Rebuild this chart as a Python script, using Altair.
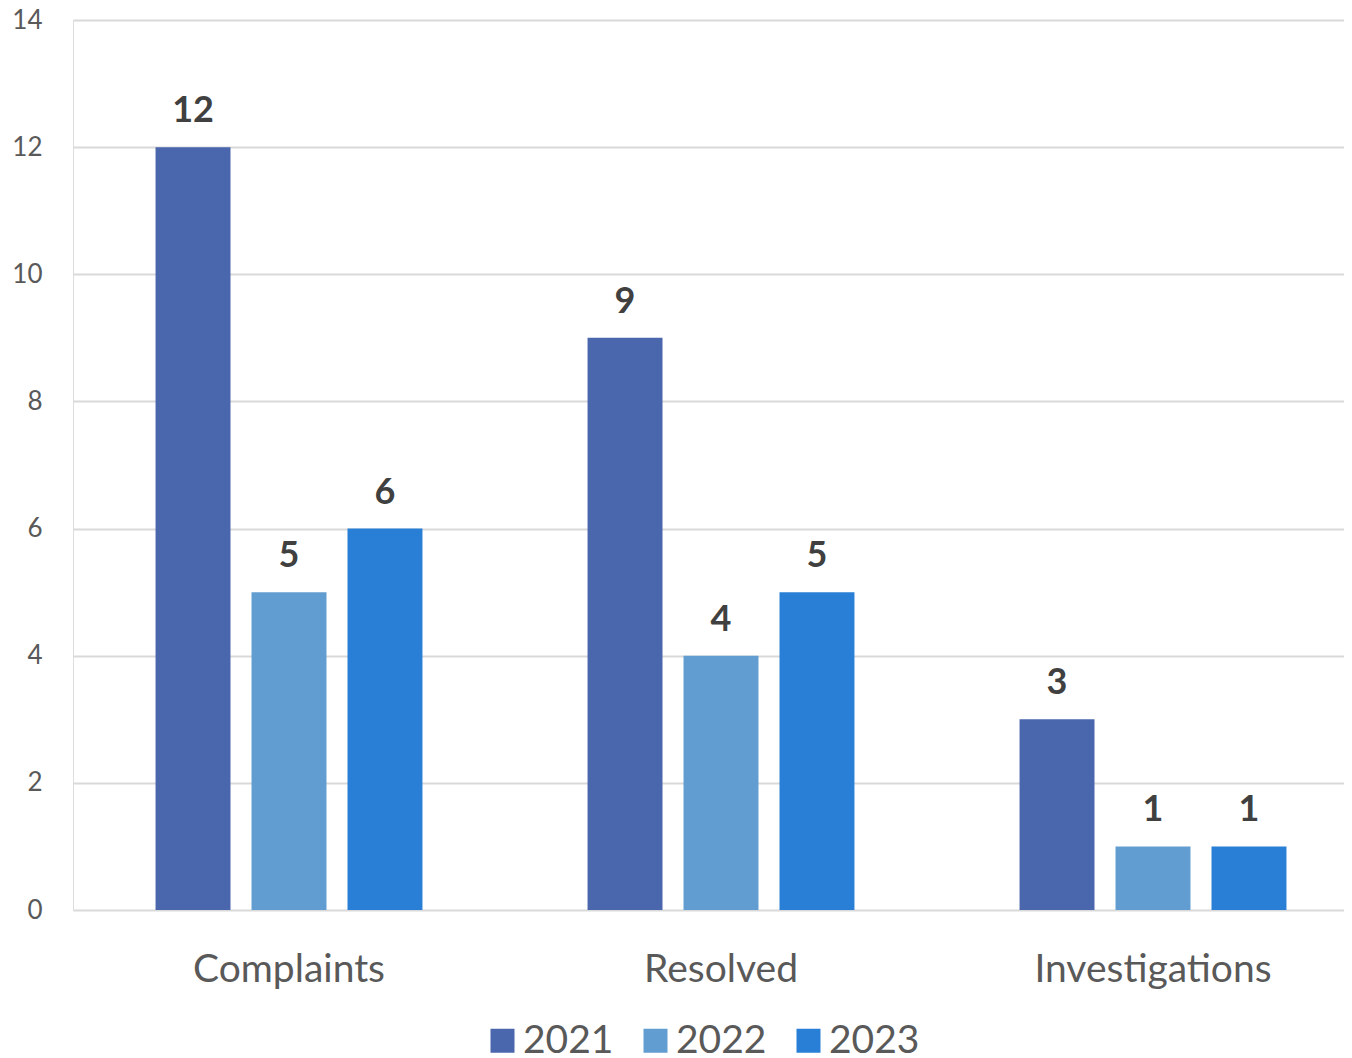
import altair as alt
import pandas as pd

categories = ["Complaints", "Resolved", "Investigations"]
years = ["2021", "2022", "2023"]
values_2021 = [12, 9, 3]
values_2022 = [5, 4, 1]
values_2023 = [6, 5, 1]
colors = ["#4a66ac", "#629dd1", "#297fd5"]

rows = []
for series_year, vals in zip(years, [values_2021, values_2022, values_2023]):
    for c, v in zip(categories, vals):
        rows.append({"category": c, "year": series_year, "value": v})
df = pd.DataFrame(rows)

FONT = "Lato"

x = alt.X("category:N", sort=categories, title=None,
          scale=alt.Scale(paddingInner=0, paddingOuter=0, range=[0, 1296]),
          axis=alt.Axis(labelAngle=0, labelFontSize=39, labelColor="#595959",
                        labelFont=FONT, ticks=False, domain=False, grid=False,
                        labelPadding=40, labelLimit=0))
xo = alt.XOffset("year:N", sort=years,
                 scale=alt.Scale(paddingInner=0.219, paddingOuter=0.86))
y = alt.Y("value:Q", title=None,
          scale=alt.Scale(domain=[0, 14], nice=False),
          axis=alt.Axis(values=[0, 2, 4, 6, 8, 10, 12, 14], labelFontSize=26,
                        labelColor="#595959", labelFont=FONT, ticks=False,
                        domain=False, gridColor="#d9d9d9", gridWidth=2,
                        labelPadding=31))

base = alt.Chart(df).encode(x=x, xOffset=xo, y=y)

bars = base.mark_bar().encode(
    color=alt.Color("year:N", sort=years,
                    scale=alt.Scale(domain=years, range=colors),
                    legend=alt.Legend(title=None, orient="none", direction="horizontal",
                                      legendX=410, legendY=1001,
                                      symbolType="square", symbolSize=576,
                                      symbolStrokeWidth=0, labelFontSize=39,
                                      labelFont=FONT, labelColor="#595959",
                                      labelOffset=1, columnPadding=22, labelLimit=0))
)

labels = base.mark_text(baseline="bottom", dy=-17, fontSize=36, fontWeight="bold",
                        font=FONT, color="#404040").encode(text="value:Q")

chart = (bars + labels).properties(
    width=1271, height=890,
    autosize=alt.AutoSizeParams(type="none"),
    padding={"left": 65, "top": 12, "right": 0, "bottom": 148},
).configure_view(stroke=None).configure(background="white")

chart.save("out.html", embed_options={"renderer": "svg", "actions": False})
